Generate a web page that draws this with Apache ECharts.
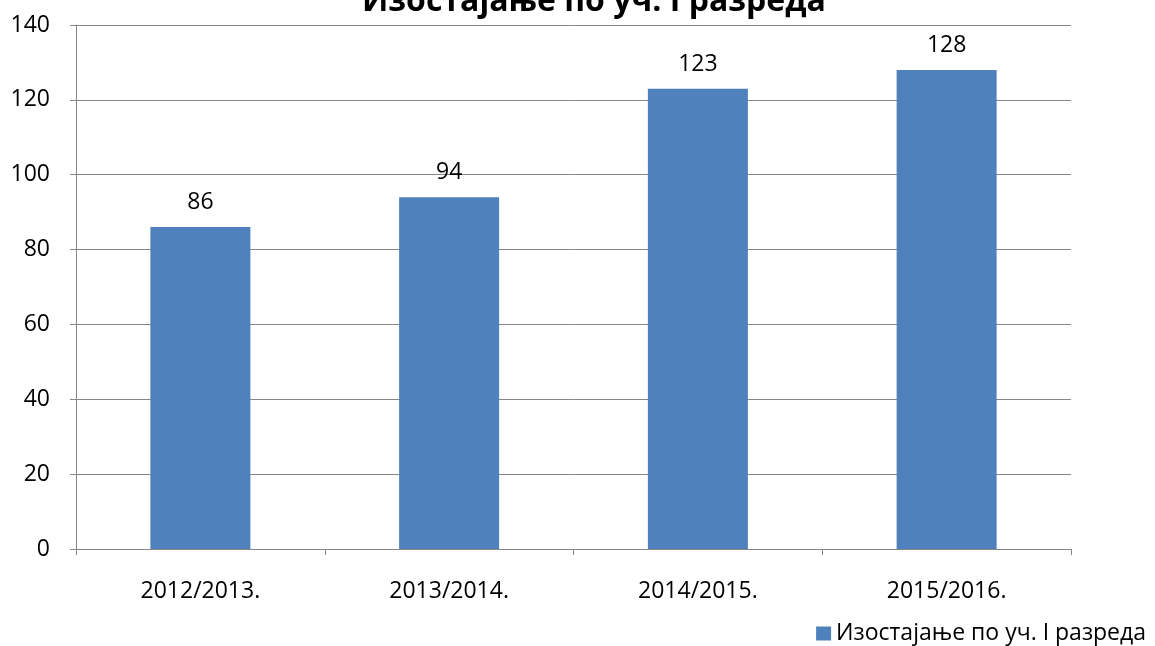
<!DOCTYPE html>
<html>
<head>
<meta charset="utf-8">
<script src="https://cdn.jsdelivr.net/npm/echarts@6/dist/echarts.min.js"></script>
<style>
html, body { margin: 0; padding: 0; background: #fff; }
#chart { width: 1155px; height: 646px; }
</style>
</head>
<body>
<div id="chart"></div>
<script>
// школске године и изостанци
var years = ['2012/2013.', '2013/2014.', '2014/2015.', '2015/2016.'];
var absences = [86, 94, 123, 128];
var seriesName = 'Изостајање по уч. I разреда';

var chart = echarts.init(document.getElementById('chart'));
var option = {
    textStyle: { fontFamily: 'Open Sans' },
    title: {
        text: 'Изостајање по уч. I разреда',
        left: 357,
        top: -19,
        textStyle: { fontSize: 32, fontWeight: 'bold', color: '#000', fontFamily: 'Open Sans' }
    },
    legend: {
        right: 4,
        top: 617,
        itemWidth: 15,
        itemHeight: 14,
        itemGap: 5,
        icon: 'rect',
        textStyle: { fontSize: 23, color: '#000' },
        data: [seriesName]
    },
    grid: {
        left: 76,
        right: 84,
        top: 25,
        bottom: 97
    },
    xAxis: {
        type: 'category',
        data: years,
        axisLine: { lineStyle: { color: '#868686', width: 1 } },
        axisTick: { show: true, length: 6, lineStyle: { color: '#868686' } },
        axisLabel: { color: '#000', fontSize: 23, margin: 31 }
    },
    yAxis: {
        type: 'value',
        min: 0,
        max: 140,
        interval: 20,
        axisLine: { show: true, lineStyle: { color: '#868686', width: 1 } },
        axisTick: { show: true, length: 6, lineStyle: { color: '#868686' } },
        axisLabel: { color: '#000', fontSize: 23, margin: 26 },
        splitLine: { lineStyle: { color: '#868686', width: 1 } }
    },
    series: [{
        name: seriesName,
        type: 'bar',
        data: absences,
        barWidth: 100,
        itemStyle: { color: '#4f81bd' },
        label: {
            show: true,
            position: 'top',
            distance: 13,
            color: '#000',
            fontSize: 23
        }
    }]
};
chart.setOption(option);
</script>
</body>
</html>
